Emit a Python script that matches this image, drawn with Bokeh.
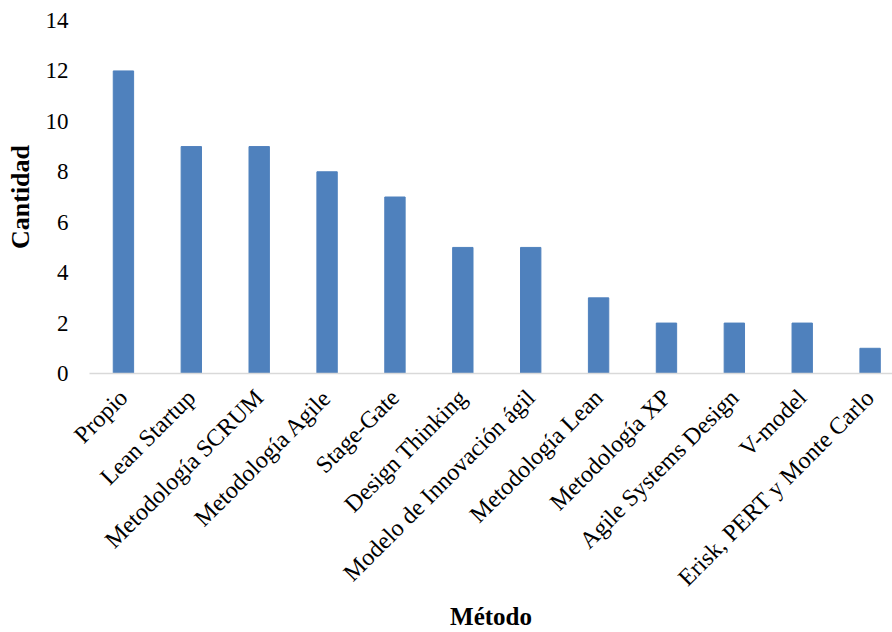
import math
from bokeh.plotting import figure
from bokeh.models import Range1d, FixedTicker, ColumnDataSource
from bokeh.embed import file_html
from bokeh.resources import INLINE

categories = ["Propio", "Lean Startup", "Metodología SCRUM", "Metodología Agile",
              "Stage-Gate", "Design Thinking", "Modelo de Innovación ágil",
              "Metodología Lean", "Metodología XP", "Agile Systems Design",
              "V-model", "Erisk, PERT y Monte Carlo"]
values = [12, 9, 9, 8, 7, 5, 5, 3, 2, 2, 2, 1]
y_ticks = [0, 2, 4, 6, 8, 10, 12, 14]

xs = list(range(len(categories)))
src = ColumnDataSource(dict(x=xs, top=values))

FONT = "Liberation Serif"

p = figure(width=892, height=632, output_backend="svg", toolbar_location=None,
           x_range=Range1d(-0.5, 11.33), y_range=Range1d(0, 14),
           min_border_left=89, min_border_right=0, min_border_top=20,
           min_border_bottom=259)
p.vbar(x="x", top="top", width=0.3, source=src, color="#4F81BD")

p.xaxis.ticker = FixedTicker(ticks=xs)
p.xaxis.major_label_overrides = {i: c for i, c in enumerate(categories)}
p.xaxis.major_label_orientation = math.pi / 4
p.xaxis.major_label_text_font = FONT
p.xaxis.major_label_text_font_size = "24px"
p.xaxis.major_label_text_color = "#000000"
p.xaxis.major_tick_out = 0
p.xaxis.major_tick_in = 0
p.xaxis.major_label_standoff = 20
p.xaxis.major_tick_line_color = None
p.xaxis.minor_tick_line_color = None
p.xaxis.axis_line_color = "#D9D9D9"
p.xaxis.axis_line_width = 1.5
p.xaxis.axis_label = "Método"
p.xaxis.axis_label_text_font = FONT
p.xaxis.axis_label_text_font_style = "bold"
p.xaxis.axis_label_text_font_size = "25px"
p.xaxis.axis_label_text_color = "#000000"
p.xaxis.axis_label_standoff = 0

p.yaxis.ticker = FixedTicker(ticks=y_ticks)
p.yaxis.major_label_text_font = FONT
p.yaxis.major_label_text_font_size = "23px"
p.yaxis.major_label_text_color = "#000000"
p.yaxis.major_tick_out = 0
p.yaxis.major_tick_in = 0
p.yaxis.major_label_standoff = 21
p.yaxis.major_tick_line_color = None
p.yaxis.minor_tick_line_color = None
p.yaxis.axis_line_color = None
p.yaxis.axis_label = "Cantidad"
p.yaxis.axis_label_text_font = FONT
p.yaxis.axis_label_text_font_style = "bold"
p.yaxis.axis_label_text_font_size = "26px"
p.yaxis.axis_label_text_color = "#000000"
p.yaxis.axis_label_standoff = 8

p.xgrid.grid_line_color = None
p.ygrid.grid_line_color = None
p.outline_line_color = None
p.background_fill_color = "white"
p.border_fill_color = "white"

open("out.html", "w").write(file_html(p, INLINE))
